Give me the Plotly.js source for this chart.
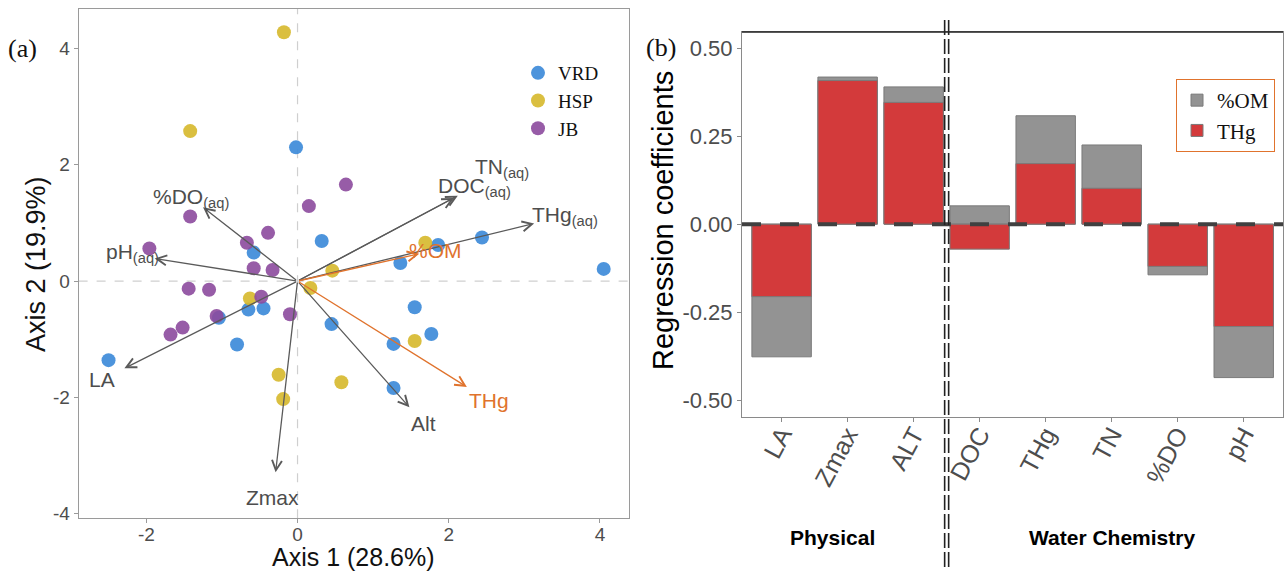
<!DOCTYPE html>
<html><head><meta charset="utf-8">
<script src="https://cdn.plot.ly/plotly-3.0.1.min.js"></script>
<style>html,body{margin:0;padding:0;background:#fff;} #chart{width:1284px;height:571px;}</style>
</head><body><div id="chart"></div>
<script>
// ---------- Panel (a): ordination site scores ----------
const vrdX = [-0.02, 0.32, -0.58, 1.36, 1.86, 2.44, 4.05, -0.65, -0.45, -1.04, -0.80, -2.50, 0.45, 1.55, 1.77, 1.27, 1.27];
const vrdY = [2.30, 0.69, 0.49, 0.31, 0.62, 0.75, 0.21, -0.49, -0.47, -0.63, -1.09, -1.36, -0.74, -0.45, -0.91, -1.08, -1.84];
const hspX = [-0.18, -1.42, 1.69, 0.46, 0.17, -0.63, 1.55, -0.25, 0.58, -0.19];
const hspY = [4.28, 2.58, 0.66, 0.18, -0.12, -0.30, -1.03, -1.61, -1.74, -2.03];
const jbX = [0.64, 0.15, -1.42, -0.39, -0.67, -1.96, -0.58, -0.33, -1.44, -1.17, -0.48, -1.07, -0.10, -1.52, -1.68];
const jbY = [1.66, 1.29, 1.11, 0.83, 0.66, 0.56, 0.22, 0.19, -0.13, -0.15, -0.27, -0.60, -0.57, -0.80, -0.92];
const siteNames = ['VRD', 'HSP', 'JB'];

// Variable loadings (arrow tips)
const loadingNames = ['LA', 'Zmax', 'Alt', 'DOC<sub>(aq)</sub>', 'TN<sub>(aq)</sub>', 'THg<sub>(aq)</sub>', '%DO<sub>(aq)</sub>', 'pH<sub>(aq)</sub>', '%OM', 'THg'];
const loadingX = [-2.29, -0.29, 1.48, 2.07, 2.12, 3.13, -1.25, -1.89, 1.61, 2.24];
const loadingY = [-1.50, -3.29, -2.17, 1.43, 1.47, 0.99, 1.27, 0.39, 0.47, -1.82];
const loadingIsResponse = [false, false, false, false, false, false, false, false, true, true];

// ---------- Panel (b): regression coefficients ----------
const predictors = ['LA', 'Zmax', 'ALT', 'DOC', 'THg', 'TN', '%DO', 'pH'];
const coefOM  = [-0.377, 0.418, 0.390, 0.052, 0.308, 0.225, -0.144, -0.436];
const coefTHg = [-0.206, 0.408, 0.346, -0.071, 0.172, 0.102, -0.120, -0.291];
const groupNames = ['Physical', 'Water Chemistry'];
const xTickVals = [-2, 0, 2, 4];
const yTickVals = [-4, -2, 0, 2, 4];
const bTickVals = [-0.5, -0.25, 0, 0.25, 0.5];

// ---------- styles ----------
const SANS = 'Liberation Sans, Arial, sans-serif';
const SERIF = 'Liberation Serif, Times New Roman, serif';
const siteColors = ['#3a88d8', '#d6b82b', '#8c4a9d'];
const greyTxt = '#4d4d4d';
const arrowGrey = '#5a5a5a';
const orange = '#e0732d';
const fmtTick = v => String(v).replace('−', '-');

const traces = [];
[[vrdX, vrdY], [hspX, hspY], [jbX, jbY]].forEach((d, i) => {
  traces.push({
    type: 'scatter', mode: 'markers', x: d[0], y: d[1], name: siteNames[i],
    xaxis: 'x', yaxis: 'y', legend: 'legend',
    marker: {size: 14, color: siteColors[i], opacity: 0.9, line: {width: 0}},
    hoverinfo: 'x+y+name'
  });
});
traces.push({
  type: 'bar', x: predictors, y: coefOM, name: '%OM', xaxis: 'x2', yaxis: 'y2', legend: 'legend2',
  width: 0.9, marker: {color: '#939393', line: {color: '#7a7a7a', width: 1}}
});
traces.push({
  type: 'bar', x: predictors, y: coefTHg, name: 'THg', xaxis: 'x2', yaxis: 'y2', legend: 'legend2',
  width: 0.9, marker: {color: '#d33a3b', line: {color: '#7a7a7a', width: 1}}
});

const annotations = [];
const labelShift = {4: [23, 17], 7: [-4, 2]};
loadingX.forEach((lx, i) => {
  const col = loadingIsResponse[i] ? orange : arrowGrey;
  annotations.push({
    xref: 'x', yref: 'y', axref: 'x', ayref: 'y', x: lx, y: loadingY[i], ax: 0, ay: 0,
    text: '', showarrow: true, arrowhead: 5, arrowsize: 1.5, arrowwidth: 1.3, arrowcolor: col, standoff: 0
  });
  const sh = labelShift[i] || [0, 0];
  annotations.push({
    xref: 'x', yref: 'y', x: lx * 1.13, y: loadingY[i] * 1.13, text: loadingNames[i], showarrow: false,
    xshift: sh[0], yshift: sh[1],
    font: {family: SANS, size: 21, color: loadingIsResponse[i] ? orange : greyTxt}
  });
});
// axis titles & panel labels
annotations.push({xref: 'paper', yref: 'paper', x: 353 / 1284, y: 1 - 557 / 571, text: 'Axis 1 (28.6%)', showarrow: false,
  font: {family: SANS, size: 25, color: '#111'}, xanchor: 'center', yanchor: 'middle'});
annotations.push({xref: 'paper', yref: 'paper', x: 36 / 1284, y: 1 - 264 / 571, text: 'Axis 2 (19.9%)', showarrow: false, textangle: -90,
  font: {family: SANS, size: 27, color: '#111'}, xanchor: 'center', yanchor: 'middle'});
annotations.push({xref: 'paper', yref: 'paper', x: 663 / 1284, y: 1 - 221 / 571, text: 'Regression coefficients', showarrow: false, textangle: -90,
  font: {family: SANS, size: 29, color: '#000'}, xanchor: 'center', yanchor: 'middle'});
annotations.push({xref: 'paper', yref: 'paper', x: 23 / 1284, y: 1 - 48 / 571, text: '(a)', showarrow: false,
  font: {family: SERIF, size: 26, color: '#111'}, xanchor: 'center', yanchor: 'middle'});
annotations.push({xref: 'paper', yref: 'paper', x: 661 / 1284, y: 1 - 47 / 571, text: '(b)', showarrow: false,
  font: {family: SERIF, size: 26, color: '#111'}, xanchor: 'center', yanchor: 'middle'});
annotations.push({xref: 'x2', yref: 'paper', x: 0.77, y: 1 - 537 / 571, text: '<b>' + groupNames[0] + '</b>', showarrow: false,
  font: {family: SANS, size: 21, color: '#000'}, xanchor: 'center', yanchor: 'middle'});
annotations.push({xref: 'x2', yref: 'paper', x: 5, y: 1 - 537 / 571, text: '<b>' + groupNames[1] + '</b>', showarrow: false,
  font: {family: SANS, size: 21, color: '#000'}, xanchor: 'center', yanchor: 'middle'});

const shapes = [
  // zero reference lines panel (a)
  {type: 'line', xref: 'x domain', yref: 'y', x0: 0, x1: 1, y0: 0, y1: 0, layer: 'below', line: {color: '#cfcfcf', width: 1.2, dash: 'dash'}},
  {type: 'line', xref: 'x', yref: 'y domain', x0: 0, x1: 0, y0: 0, y1: 1, layer: 'below', line: {color: '#cfcfcf', width: 1.2, dash: 'dash'}},
  // zero line panel (b)
  {type: 'line', xref: 'x2 domain', yref: 'y2', x0: 0, x1: 1, y0: 0, y1: 0, layer: 'above', line: {color: '#404040', width: 4, dash: '19px,19px'}},
  // double dashed group divider
  {type: 'line', xref: 'x2', xsizemode: 'pixel', xanchor: 2.5, x0: -2, x1: -2, yref: 'paper', y0: 1 - 567 / 571, y1: 1 - 20 / 571, layer: 'above', line: {color: '#222', width: 1.6, dash: '15px,4px'}},
  {type: 'line', xref: 'x2', xsizemode: 'pixel', xanchor: 2.5, x0: 2, x1: 2, yref: 'paper', y0: 1 - 567 / 571, y1: 1 - 20 / 571, layer: 'above', line: {color: '#222', width: 1.6, dash: '15px,4px'}},
  // top border of panel (b)
  {type: 'line', xref: 'x2 domain', yref: 'y2 domain', x0: 0, x1: 1, y0: 1, y1: 1, layer: 'above', line: {color: '#222', width: 1.4}}
];

const layout = {
  width: 1284, height: 571,
  margin: {l: 0, r: 0, t: 0, b: 0},
  paper_bgcolor: '#fff', plot_bgcolor: '#fff',
  barmode: 'overlay', showlegend: true,
  xaxis: {domain: [78.6 / 1284, 628.5 / 1284], range: [-2.896, 4.378], tickvals: xTickVals, ticktext: xTickVals.map(fmtTick),
    showgrid: false, zeroline: false, showline: true, mirror: true, linecolor: '#9a9a9a', linewidth: 1,
    ticks: 'outside', ticklen: 4, tickcolor: '#9a9a9a', ticklabelstandoff: -5, tickfont: {family: SANS, size: 19, color: greyTxt}, anchor: 'y'},
  yaxis: {domain: [1 - 518.3 / 571, 1 - 9 / 571], range: [-4.08, 4.68], tickvals: yTickVals, ticktext: yTickVals.map(fmtTick),
    showgrid: false, zeroline: false, showline: true, mirror: true, linecolor: '#9a9a9a', linewidth: 1,
    ticks: 'outside', ticklen: 4, tickcolor: '#9a9a9a', tickfont: {family: SANS, size: 19, color: greyTxt}, anchor: 'x'},
  xaxis2: {domain: [742 / 1284, 1283 / 1284], range: [-0.6, 7.595], type: 'category', anchor: 'y2', tickangle: -62,
    showgrid: false, zeroline: false, showline: true, mirror: true, linecolor: '#8a8a8a', linewidth: 1,
    ticks: 'outside', ticklen: 4, tickcolor: '#8a8a8a', ticklabelstandoff: -12, tickfont: {family: SANS, size: 25, color: greyTxt}},
  yaxis2: {domain: [1 - 417 / 571, 1 - 32 / 571], range: [-0.548, 0.546], anchor: 'x2',
    tickvals: bTickVals, ticktext: bTickVals.map(v => v.toFixed(2)),
    showgrid: false, zeroline: false, showline: true, mirror: true, linecolor: '#8a8a8a', linewidth: 1,
    ticks: 'outside', ticklen: 4, tickcolor: '#8a8a8a', tickfont: {family: SANS, size: 22, color: greyTxt}},
  legend: {x: 518 / 1284, y: 1 - 54 / 571, xanchor: 'left', yanchor: 'top', bgcolor: 'rgba(0,0,0,0)',
    font: {family: SERIF, size: 19, color: '#111'}, itemwidth: 30, tracegroupgap: 0},
  legend2: {x: 1176 / 1284, y: 1 - 79 / 571, xanchor: 'left', yanchor: 'top', bgcolor: '#fff',
    bordercolor: '#e0732d', borderwidth: 1, font: {family: SERIF, size: 21, color: '#111'}, itemwidth: 30, traceorder: 'normal'},
  annotations: annotations,
  shapes: shapes
};

Plotly.newPlot('chart', traces, layout, {displayModeBar: false, staticPlot: true});
</script>
</body></html>
